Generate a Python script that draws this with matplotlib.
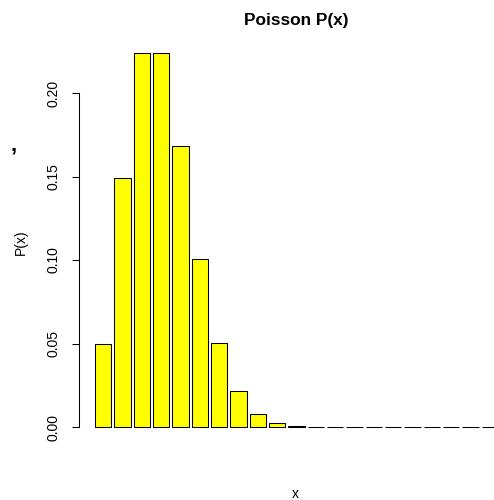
import matplotlib
matplotlib.use("Agg")
import matplotlib.pyplot as plt

plt.rcParams['font.family'] = ['Liberation Sans', 'DejaVu Sans']

x_values = list(range(21))
probabilities = [0.0498, 0.1494, 0.2240, 0.2240, 0.1680, 0.1008, 0.0504,
                 0.0216, 0.0081, 0.0027, 0.0008, 0.0002, 0.00006, 0.00001,
                 0.0, 0.0, 0.0, 0.0, 0.0, 0.0, 0.0]
y_ticks = [0.00, 0.05, 0.10, 0.15, 0.20]
y_tick_labels = ["0.00", "0.05", "0.10", "0.15", "0.20"]
title = "Poisson P(x)"
x_label = "x"
y_label = "P(x)"

W, H = 494, 500
fig = plt.figure(figsize=(W / 100, H / 100), dpi=100)
left_px, right_px, top_px, bottom_px = 79, 514, 38, 442
ax = fig.add_axes([left_px / W, 1 - bottom_px / H, (right_px - left_px) / W, (bottom_px - top_px) / H])

centers = [0.7 + 1.2 * i for i in x_values]
ax.bar(centers, probabilities, width=1.0, color='#FFFF00', edgecolor='black', linewidth=0.75)

ymax = max(probabilities)
ax.set_ylim(-0.04 * ymax, 1.04 * ymax)
ax.set_xlim(-0.8, 26.2)

for s in ['top', 'right', 'bottom']:
    ax.spines[s].set_visible(False)
ax.spines['left'].set_bounds(0, 0.2)
ax.spines['left'].set_linewidth(0.75)
ax.set_xticks([])
ax.set_yticks(y_ticks)
ax.set_yticklabels(y_tick_labels, rotation=90, va='center', fontsize=10)
ax.tick_params(axis='y', length=5, width=0.75, pad=8)

fig.text(296 / W, 1 - 21 / H, title, ha='center', va='center', fontsize=12.4, fontweight='bold')
fig.text(295 / W, 1 - 494 / H, x_label, ha='center', va='center', fontsize=10)
fig.text(21 / W, 1 - 242 / H, y_label, ha='center', va='center', rotation=90, fontsize=10)
fig.text(14 / W, 1 - 145 / H, ",", ha='center', va='center', fontsize=16, fontweight='bold')

fig.savefig("out.png", dpi=100)
